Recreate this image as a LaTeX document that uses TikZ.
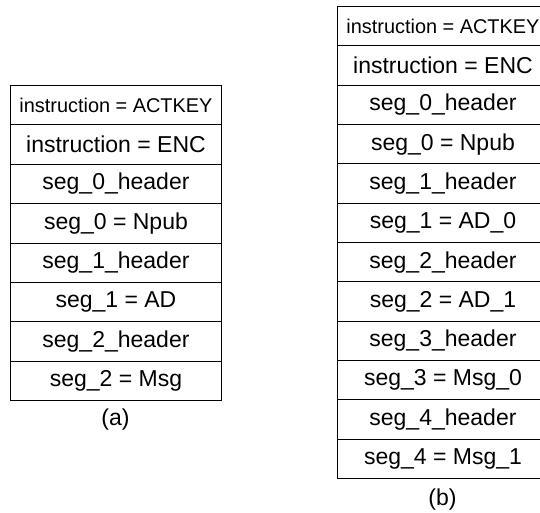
\documentclass[tikz,border=0pt]{standalone}
\usepackage{fontspec}
\setmainfont{Liberation Sans}
\begin{document}
\begin{tikzpicture}[x=1pt,y=1pt,
  cell/.style={draw, line width=0.9pt, minimum width=211pt, minimum height=39.4pt, inner sep=0pt, anchor=north west, font=\fontsize{23}{26}\selectfont},
  smallcell/.style={cell, font=\fontsize{19.9}{23}\selectfont},
  caption/.style={font=\fontsize{23}{26}\selectfont}]
\useasboundingbox (0,0) rectangle (540,512);
% (a)
\node[smallcell] (a1) at (10,427) {instruction = ACTKEY};
\node[cell] (a2) at (10,427-39.4) {instruction = ENC};
\node[cell] (a3) at (10,427-2*39.4) {seg\_0\_header};
\node[cell] (a4) at (10,427-3*39.4) {seg\_0 = Npub};
\node[cell] (a5) at (10,427-4*39.4) {seg\_1\_header};
\node[cell] (a6) at (10,427-5*39.4) {seg\_1 = AD};
\node[cell] (a7) at (10,427-6*39.4) {seg\_2\_header};
\node[cell] (a8) at (10,427-7*39.4) {seg\_2 = Msg};
\node[caption] (la) at (115.5,92) {(a)};
% (b)
\node[smallcell, minimum height=39.33pt] (b1) at (337,506) {instruction = ACTKEY};
\node[cell, minimum height=39.33pt] (b2) at (337,506-39.33) {instruction = ENC};
\node[cell, minimum height=39.33pt] (b3) at (337,506-2*39.33) {seg\_0\_header};
\node[cell, minimum height=39.33pt] (b4) at (337,506-3*39.33) {seg\_0 = Npub};
\node[cell, minimum height=39.33pt] (b5) at (337,506-4*39.33) {seg\_1\_header};
\node[cell, minimum height=39.33pt] (b6) at (337,506-5*39.33) {seg\_1 = AD\_0};
\node[cell, minimum height=39.33pt] (b7) at (337,506-6*39.33) {seg\_2\_header};
\node[cell, minimum height=39.33pt] (b8) at (337,506-7*39.33) {seg\_2 = AD\_1};
\node[cell, minimum height=39.33pt] (b9) at (337,506-8*39.33) {seg\_3\_header};
\node[cell, minimum height=39.33pt] (b10) at (337,506-9*39.33) {seg\_3 = Msg\_0};
\node[cell, minimum height=39.33pt] (b11) at (337,506-10*39.33) {seg\_4\_header};
\node[cell, minimum height=39.33pt] (b12) at (337,506-11*39.33) {seg\_4 = Msg\_1};
\node[caption] (lb) at (442.5,12) {(b)};
\end{tikzpicture}
\end{document}
